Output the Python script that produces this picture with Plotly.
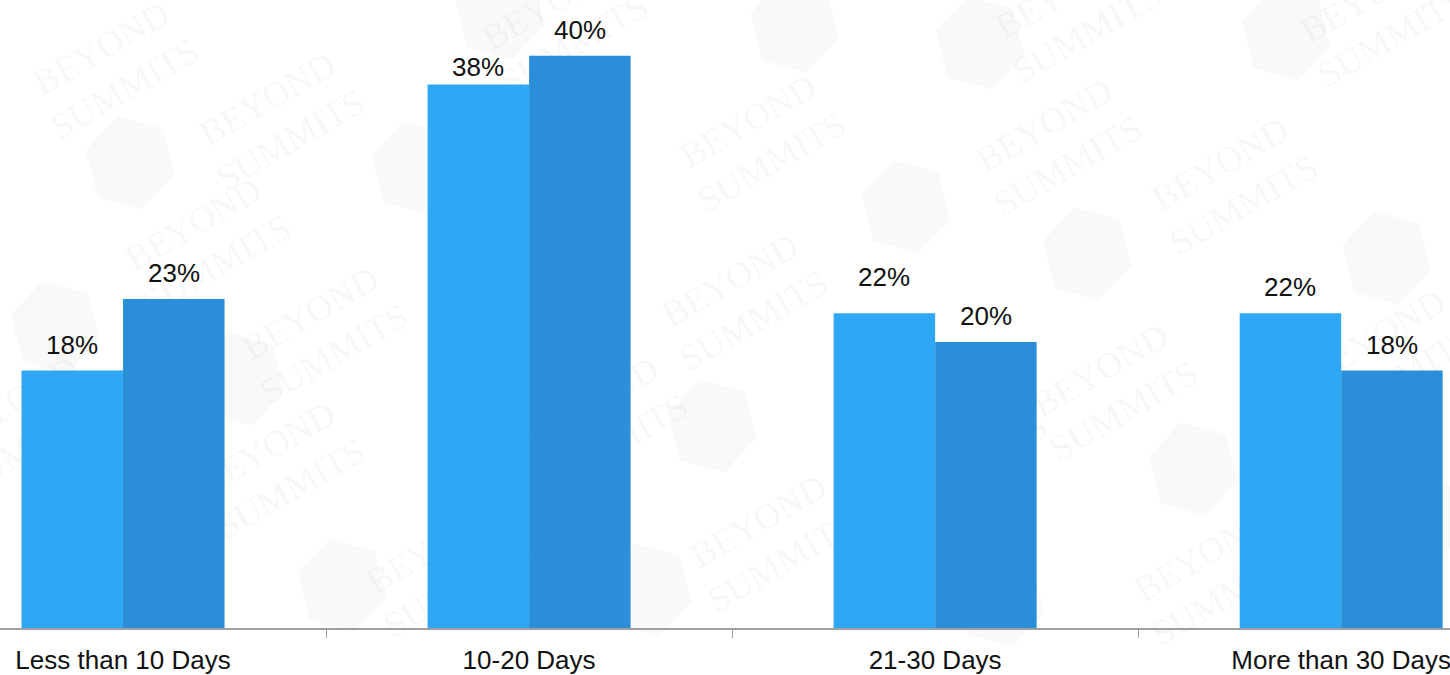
import math
import plotly.graph_objects as go

categories = ["Less than 10 Days", "10-20 Days", "21-30 Days", "More than 30 Days"]
series_a = [18, 38, 22, 22]
series_b = [23, 40, 20, 18]
series_names = ["Series A", "Series B"]
colors = ["#2ea7f4", "#2a8fd8"]

W, H = 1450, 675
MARGIN_B = 47
PLOT_H = H - MARGIN_B

fig = go.Figure()
for name, vals, col in zip(series_names, [series_a, series_b], colors):
    fig.add_trace(go.Bar(
        x=categories, y=vals, name=name,
        marker=dict(color=col, line=dict(width=0)),
        hoverinfo="skip",
    ))

# value labels above each bar; a couple are nudged to keep them clear of neighbours
label_nudge = {(0, 1): -9, (0, 2): 10}
n_series = 2
group_width = 0.5
for i, vals in enumerate([series_a, series_b]):
    offset = -group_width / 2 + group_width / n_series * (i + 0.5)
    for j, v in enumerate(vals):
        fig.add_annotation(
            x=j + offset, y=v, xref="x", yref="y",
            text=f"{v}%", showarrow=False,
            yanchor="bottom", yshift=9 + label_nudge.get((i, j), 0),
            font=dict(family="Liberation Sans, Arial", size=26, color="#111111"),
        )


# ---- faint background watermark (drawn beneath the bars) ----
def px(x):
    return x / W


def py(y):
    return (PLOT_H - y) / PLOT_H


wm_text_pos = [(111, 65), (277, 116), (758, 138), (1054, 142), (1230, 181),
               (1378, 13), (1073, 9), (203, 241), (320, 330), (740, 297),
               (277, 465), (768, 538), (1110, 387), (1212, 572), (1387, 353),
               (444, 564), (560, 20), (20, 420), (960, 440), (600, 420)]
wm_logo_pos = [(130, 163), (980, 43), (1286, 34), (906, 207), (1087, 254),
               (1387, 258), (55, 327), (240, 379), (712, 426), (1193, 469),
               (342, 585), (647, 590), (795, 26), (500, 13), (416, 168),
               (1000, 600), (1420, 520)]

for cx, cy in wm_text_pos:
    fig.add_shape(
        type="rect", xref="paper", yref="paper",
        x0=px(cx - 5), x1=px(cx + 5), y0=py(cy + 5), y1=py(cy - 5),
        line=dict(width=0), fillcolor="rgba(0,0,0,0)", layer="below",
        label=dict(text="BEYOND<br>SUMMITS", textangle=-30,
                   textposition="middle center",
                   font=dict(family="Liberation Serif", size=36,
                             color="rgba(0,0,0,0.05)")),
    )

R = 46
for cx, cy in wm_logo_pos:
    pts = []
    for k in range(6):
        a = math.radians(60 * k + 15)
        pts.append((px(cx + R * math.cos(a)), py(cy + R * 1.05 * math.sin(a))))
    path = "M " + " L ".join(f"{x:.5f},{y:.5f}" for x, y in pts) + " Z"
    fig.add_shape(
        type="path", xref="paper", yref="paper", path=path,
        line=dict(width=0), fillcolor="rgba(0,0,0,0.022)", layer="below",
    )

fig.update_layout(
    width=W, height=H,
    margin=dict(l=0, r=0, t=0, b=MARGIN_B),
    paper_bgcolor="white", plot_bgcolor="rgba(0,0,0,0)",
    barmode="group", bargap=0.5, bargroupgap=0,
    showlegend=False,
    font=dict(family="Liberation Sans, Arial", size=26, color="#111111"),
)
fig.update_xaxes(
    type="category", range=[-0.303, 3.268],
    showline=True, linecolor="#a0a0a0", linewidth=2,
    ticks="outside", tickson="boundaries", ticklen=8, tickcolor="#a0a0a0", tickwidth=1,
    ticklabelstandoff=8,
    tickfont=dict(size=26, color="#111111"),
    showgrid=False, zeroline=False,
)
fig.update_yaxes(range=[0, 43.9], visible=False, showgrid=False, zeroline=False)

fig.write_html("out.html")
